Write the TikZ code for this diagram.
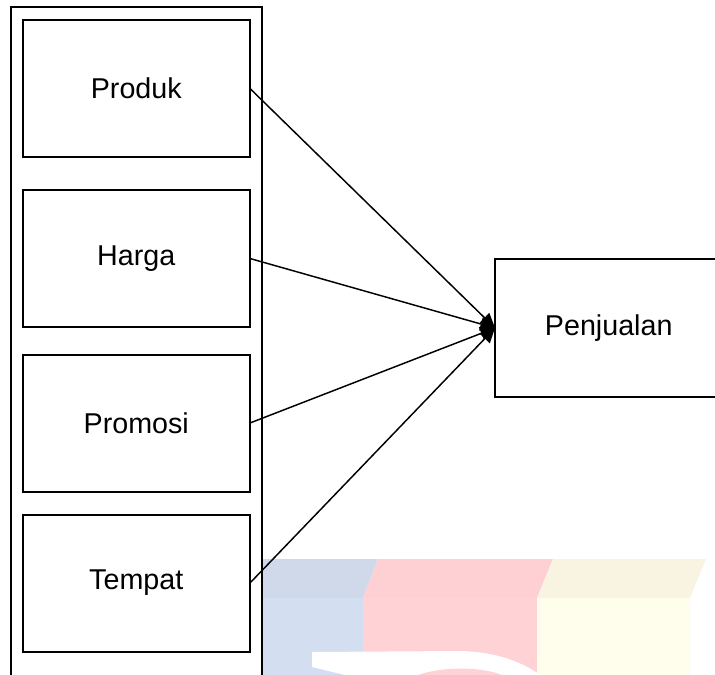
\documentclass[tikz,border=0pt]{standalone}
\usepackage{fontspec}
\setmainfont{Liberation Sans}
\usetikzlibrary{arrows.meta}

\definecolor{wmBlue}{HTML}{D3DEF0}
\definecolor{wmBlueTop}{HTML}{D0D9EA}
\definecolor{wmRed}{HTML}{FFD3D6}
\definecolor{wmRedTop}{HTML}{FFD0D3}
\definecolor{wmYellow}{HTML}{FFFDEC}
\definecolor{wmYellowTop}{HTML}{F9F4E2}

\tikzset{
  factor/.style={draw, line width=1.5pt, fill=white, inner sep=0pt, outer sep=0pt,
    minimum width=170.6pt, minimum height=102.75pt,
    font=\fontsize{21.5}{26}\selectfont},
  container/.style={draw, line width=1.5pt, inner sep=0pt, outer sep=0pt,
    minimum width=188.5pt, minimum height=525pt},
  link/.style={line width=1.1pt, -{Triangle[length=11pt,width=10pt]}},
}

\begin{document}
\begin{tikzpicture}[x=0.75pt,y=-0.75pt]
  \clip (0,0) rectangle (715,675);
  \fill[white] (0,0) rectangle (715,675);

  % faint three-block emblem in the lower part
  \fill[wmBlueTop]   (262,559) -- (378,559) -- (363,598) -- (262,598) -- cycle;
  \fill[wmRedTop]    (378,559) -- (553,559) -- (537,598) -- (363,598) -- cycle;
  \fill[wmYellowTop] (553,559) -- (706,559) -- (690,598) -- (537,598) -- cycle;
  \fill[wmBlue]   (262,598) rectangle (363,675);
  \fill[wmRed]    (363,598) rectangle (537,675);
  \fill[wmYellow] (537,598) rectangle (690,675);
  \fill[white] (312,652) -- (460,651)
    .. controls (500,652) and (525,664) .. (540,675)
    -- (345,675) -- (312,667) -- cycle;
  \fill[wmRed] (418,675) .. controls (440,667) and (480,666) .. (502,675) -- cycle;

  % group of marketing-mix factors
  \node[container] (group) at (136.35,357) {};
  \node[factor] (produk)  at (136.25,88.5) {Produk};
  \node[factor] (harga)   at (136.25,258.5) {Harga};
  \node[factor] (promosi) at (136.25,423) {Promosi};
  \node[factor] (tempat)  at (136.25,583) {Tempat};

  % outcome
  \node[factor, minimum height=103.5pt] (sales) at (608.75,328) {Penjualan};

  \draw[link] (produk.east)  -- (sales.west);
  \draw[link] (harga.east)   -- (sales.west);
  \draw[link] (promosi.east) -- (sales.west);
  \draw[link] (tempat.east)  -- (sales.west);
\end{tikzpicture}
\end{document}
